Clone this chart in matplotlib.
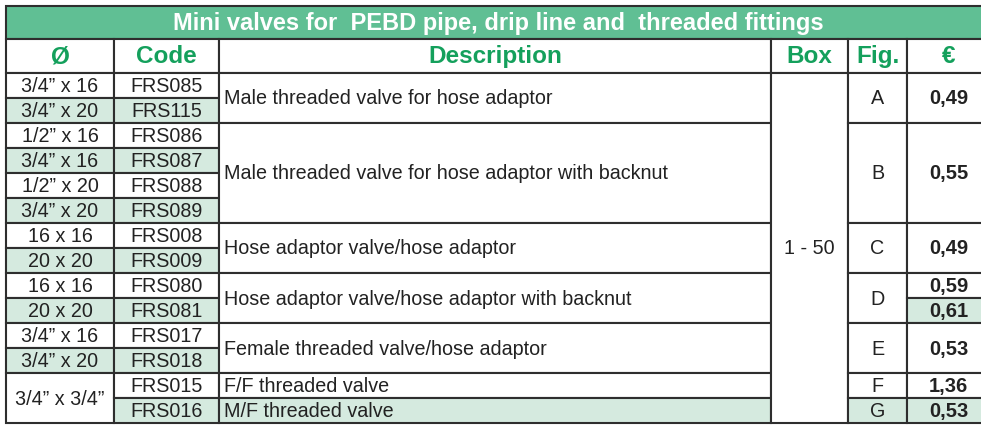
"""
  Mini valves price table, drawn as a chart
"""
import matplotlib
matplotlib.use('Agg')
import matplotlib.pyplot as plt
from matplotlib.patches import Rectangle

plt.rcParams['font.family'] = ['Liberation Sans', 'DejaVu Sans']

title = 'Mini valves for  PEBD pipe, drip line and  threaded fittings'
headers = ['Ø', 'Code', 'Description', 'Box', 'Fig.', '€']

codes = ['FRS085', 'FRS115', 'FRS086', 'FRS087', 'FRS088', 'FRS089', 'FRS008',
         'FRS009', 'FRS080', 'FRS081', 'FRS017', 'FRS018', 'FRS015', 'FRS016']
# (label, number of rows spanned)
diam_groups = [('3/4” x 16', 1), ('3/4” x 20', 1), ('1/2” x 16', 1), ('3/4” x 16', 1),
               ('1/2” x 20', 1), ('3/4” x 20', 1), ('16 x 16', 1), ('20 x 20', 1),
               ('16 x 16', 1), ('20 x 20', 1), ('3/4” x 16', 1), ('3/4” x 20', 1),
               ('3/4” x 3/4”', 2)]
desc_groups = [('Male threaded valve for hose adaptor', 2),
               ('Male threaded valve for hose adaptor with backnut', 4),
               ('Hose adaptor valve/hose adaptor', 2),
               ('Hose adaptor valve/hose adaptor with backnut', 2),
               ('Female threaded valve/hose adaptor', 2),
               ('F/F threaded valve', 1),
               ('M/F threaded valve', 1)]
box_groups = [('1 - 50', 14)]
fig_groups = [('A', 2), ('B', 4), ('C', 2), ('D', 2), ('E', 2), ('F', 1), ('G', 1)]
price_groups = [('0,49', 2), ('0,55', 4), ('0,49', 2), ('0,59', 1), ('0,61', 1),
                ('0,53', 2), ('1,36', 1), ('0,53', 1)]

# layout in pixels
col_x = [6, 114, 219, 771, 848, 907, 990]
title_top, title_bot = 6, 39
head_bot = 72.5
row_h = 25.07

green_band = '#60bf94'
green_text = '#14a05c'
light = '#d5eadf'
line_c = '#2e2e2e'
txt_c = '#222222'

fig = plt.figure(figsize=(9.81, 4.28), dpi=100)
ax = fig.add_axes([0, 0, 1, 1])
ax.set_xlim(0, 981)
ax.set_ylim(428, 0)
ax.axis('off')

# title band
ax.add_patch(Rectangle((col_x[0], title_top), col_x[-1] - col_x[0], title_bot - title_top,
                       facecolor=green_band, edgecolor=line_c, lw=1.5))
ax.text((col_x[0] + col_x[-1]) / 2, (title_top + title_bot) / 2 + 1, title,
        color='white', fontsize=17, fontweight='bold', ha='center', va='center')

# headers
for i, h in enumerate(headers):
    x0, x1 = col_x[i], col_x[i + 1]
    ax.add_patch(Rectangle((x0, title_bot), x1 - x0, head_bot - title_bot,
                           facecolor='white', edgecolor=line_c, lw=1.5))
    ax.text((x0 + x1) / 2, (title_bot + head_bot) / 2 + 1, h, color=green_text,
            fontsize=17.5, fontweight='bold', ha='center', va='center')


def draw_col(ci, groups, align='center', bold=False):
    x0, x1 = col_x[ci], col_x[ci + 1]
    r = 0
    for label, n in groups:
        y0 = head_bot + r * row_h
        h = n * row_h
        fc = light if (n == 1 and r % 2 == 1) else 'white'
        ax.add_patch(Rectangle((x0, y0), x1 - x0, h, facecolor=fc,
                               edgecolor=line_c, lw=1.5))
        if align == 'left':
            tx, ha = x0 + 5, 'left'
        else:
            tx, ha = (x0 + x1) / 2, 'center'
        ax.text(tx, y0 + h / 2 + 1, label, color=txt_c,
                fontsize=14.5 if bold else 14.2,
                fontweight='bold' if bold else 'normal', ha=ha, va='center')
        r += n


draw_col(0, diam_groups)
draw_col(1, [(c, 1) for c in codes])
draw_col(2, desc_groups, align='left')
draw_col(3, box_groups)
draw_col(4, fig_groups)
draw_col(5, price_groups, bold=True)

plt.savefig('out.png', dpi=100)
